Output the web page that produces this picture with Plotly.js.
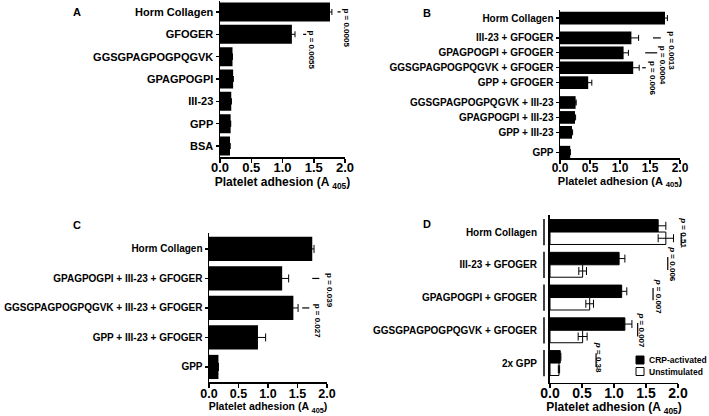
<!DOCTYPE html>
<html><head><meta charset="utf-8">
<script src="https://cdn.plot.ly/plotly-3.0.1.min.js"></script>
<style>html,body{margin:0;padding:0;background:#fff}#chart{width:709px;height:416px}</style>
</head><body><div id="chart"></div>
<script>
// ---------- DATA ----------
// Panel A
const catsA = ['Horm Collagen','GFOGER','GGSGPAGPOGPQGVK','GPAGPOGPI','III-23','GPP','BSA'];
const valsA = [1.76, 1.15, 0.20, 0.21, 0.18, 0.17, 0.16];
const errA  = [0.03, 0.05, 0, 0, 0, 0, 0];
const pA    = ['p = 0.0005', 'p = 0.0055'];
const pAcat = [0, 1];

// Panel B
const catsB = ['Horm Collagen','III-23 + GFOGER','GPAGPOGPI + GFOGER','GGSGPAGPOGPQGVK + GFOGER','GPP + GFOGER',
               'GGSGPAGPOGPQGVK + III-23','GPAGPOGPI + III-23','GPP + III-23','GPP'];
const valsB = [1.75, 1.19, 1.06, 1.22, 0.47, 0.26, 0.25, 0.20, 0.17];
const errB  = [0.04, 0.12, 0.08, 0.10, 0.06, 0.01, 0.01, 0.01, 0];
const groupB = [0, 1, 1, 1, 1, 2, 2, 2, 3];
const pB    = ['p = 0.0013', 'p = 0.0004', 'p = 0.006'];
const pBcat = [1, 2, 3];

// Panel C
const catsC = ['Horm Collagen','GPAGPOGPI + III-23 + GFOGER','GGSGPAGPOGPQGVK + III-23 + GFOGER','GPP + III-23 + GFOGER','GPP'];
const valsC = [1.75, 1.24, 1.43, 0.83, 0.16];
const errC  = [0.03, 0.11, 0.08, 0.13, 0];
const pC    = ['p = 0.039', 'p = 0.027'];
const pCcat = [1, 2];

// Panel D
const catsD = ['Horm Collagen','III-23 + GFOGER','GPAGPOGPI + GFOGER','GGSGPAGPOGPQGVK + GFOGER','2x GPP'];
const crpD     = [1.69, 1.08, 1.12, 1.17, 0.16];
const crpErrD  = [0.12, 0.09, 0.08, 0.11, 0.01];
const unsD     = [1.81, 0.51, 0.62, 0.51, 0.14];
const unsErrD  = [0.12, 0.06, 0.06, 0.07, 0.01];
const pD    = ['<i>p</i> = 0.51', '<i>p</i> = 0.006', '<i>p</i> = 0.007', '<i>p</i> = 0.007', '<i>p</i> = 0.38'];
const seriesD = ['CRP-activated', 'Unstimulated'];

const xTickVals = [0, 0.5, 1, 1.5, 2];
const xTickText = ['0.0', '0.5', '1.0', '1.5', '2.0'];
const xTitle = 'Platelet adhesion (A <sub>405</sub>)';

// ---------- LAYOUT GEOMETRY (px) ----------
const W = 709, H = 416;
const FONT = 'Liberation Sans, Arial, Helvetica, sans-serif';
const G = {
  A: {x:[220,345], y:[0.8,157.2], yr:[6.5,-0.5], tick:13, cat:11, title:12, so:3, tls:-6},
  B: {x:[560,680], y:[10,158],   yr:[9.38,-0.54], tick:12, cat:10, title:11, so:0, tls:-6},
  C: {x:[209,327], y:[233,382],  yr:[4.51,-0.54], tick:12.5, cat:10, title:10.5, so:1, tls:-5},
  D: {x:[550,678], y:[215,382.7], yr:[4.6,-0.52], tick:14, cat:10, title:12, so:0, tls:-7}
};
const posB = groupB.map((g, i) => i + 0.33 * g);

function px2x(p, v) { const g = G[p]; return (g.x[0] + (g.x[1] - g.x[0]) * v / 2) / W; }
function xAxis(p, anchor) {
  const g = G[p];
  return {domain:[g.x[0]/W, g.x[1]/W], range:[0,2], anchor:anchor, showline:true, linecolor:'#000',
    linewidth:1.5, ticks:'outside', ticklen:4, tickwidth:1.5, tickcolor:'#000', ticklabelstandoff:g.tls,
    tickvals:xTickVals, ticktext:xTickText, tickfont:{size:g.tick, weight:700, family:FONT},
    showgrid:false, zeroline:false, fixedrange:true,
    title:{text:xTitle, font:{size:g.title, weight:700, family:FONT}, standoff:g.so}};
}
function yAxis(p, anchor, extra) {
  const g = G[p];
  return Object.assign({domain:[1 - g.y[1]/H, 1 - g.y[0]/H], range:g.yr, anchor:anchor, showline:true,
    linecolor:'#000', linewidth:1.5, ticks:'outside', ticklen:3, tickwidth:1.2, tickcolor:'#000',
    tickfont:{size:g.cat, weight:700, family:FONT}, showgrid:false, zeroline:false, fixedrange:true}, extra || {});
}
function errBar(arr, w) { return {type:'data', array:arr, visible:true, color:'#000', thickness:1, width:w}; }

const traces = [
  {type:'bar', orientation:'h', x:valsA, y:catsA, xaxis:'x', yaxis:'y', width:0.85,
   marker:{color:'#000'}, error_x:errBar(errA, 3), hoverinfo:'x+y'},
  {type:'bar', orientation:'h', x:valsB, y:posB, xaxis:'x2', yaxis:'y2', width:0.85,
   marker:{color:'#000'}, error_x:errBar(errB, 3), text:catsB, hoverinfo:'x+text', textposition:'none'},
  {type:'bar', orientation:'h', x:valsC, y:catsC, xaxis:'x3', yaxis:'y3', width:0.82,
   marker:{color:'#000'}, error_x:errBar(errC, 4), hoverinfo:'x+y'},
  {type:'bar', orientation:'h', name:seriesD[0], x:crpD, y:catsD, xaxis:'x4', yaxis:'y4', width:0.38, offset:-0.38,
   marker:{color:'#000', line:{color:'#000', width:1}}, error_x:errBar(crpErrD, 4)},
  {type:'bar', orientation:'h', name:seriesD[1], x:unsD, y:catsD, xaxis:'x4', yaxis:'y4', width:0.38, offset:0,
   marker:{color:'#fff', line:{color:'#000', width:1}}, error_x:errBar(unsErrD, 4)}
];

// ---------- ANNOTATIONS ----------
const ann = [];
const shapes = [];
function pText(p, text, xv, yv, yref) {
  ann.push({xref:'paper', yref:yref, x:px2x(p, xv), y:yv, text:text, showarrow:false, textangle:90,
    xanchor:'center', yanchor:'middle', font:{size:8, weight:700, family:FONT, color:'#000'}});
}
function hDash(p, x0, x1, yv, yref) {
  shapes.push({type:'line', xref:'paper', yref:yref, x0:px2x(p, x0), x1:px2x(p, x1), y0:yv, y1:yv,
    line:{color:'#000', width:1.2}});
}
function vDash(p, xv, y0, y1, yref) {
  shapes.push({type:'line', xref:'paper', yref:yref, x0:px2x(p, xv), x1:px2x(p, xv), y0:y0, y1:y1,
    line:{color:'#000', width:1.2}});
}
// A
pText('A', pA[0], 2.03, 0.73, 'y');  hDash('A', 1.88, 1.93, pAcat[0], 'y');
pText('A', pA[1], 1.47, 1.72, 'y');  hDash('A', 1.33, 1.38, pAcat[1], 'y');
// B
pText('B', pB[0], 1.86, 2.2, 'y2');  hDash('B', 1.55, 1.68, posB[pBcat[0]], 'y2');
pText('B', pB[1], 1.72, 3.15, 'y2'); hDash('B', 1.42, 1.62, posB[pBcat[1]], 'y2');
pText('B', pB[2], 1.54, 4.04, 'y2'); hDash('B', 1.37, 1.43, posB[pBcat[2]], 'y2');
// C
pText('C', pC[0], 2.03, 1.42, 'y3'); hDash('C', 1.75, 1.87, pCcat[0], 'y3');
pText('C', pC[1], 1.84, 2.45, 'y3'); hDash('C', 1.58, 1.70, pCcat[1], 'y3');
// D
const pDx = [2.09, 1.92, 1.69, 1.43, 0.77];
const pDy = [0.03, 0.98, 1.98, 2.99, 3.82];
const lDx = [2.05, 1.84, 1.61, 1.37, 0.72];
const lDy = [[0.03,0.40],[0.76,1.16],[1.71,2.08],[2.78,3.19],[3.70,4.12]];
pD.forEach((t, i) => { pText('D', t, pDx[i], pDy[i], 'y4'); vDash('D', lDx[i], lDy[i][0], lDy[i][1], 'y4'); });
// D category brackets
catsD.forEach((c, i) => shapes.push({type:'line', xref:'paper', yref:'y4', x0:544/W, x1:544/W, y0:i-0.4, y1:i+0.4,
  line:{color:'#000', width:1.5}}));
// D legend (manual, compact)
const legY = [360, 371.5];
shapes.push({type:'rect', xref:'paper', yref:'paper', x0:636/W, x1:644/W, y0:1-(legY[0]+4)/H, y1:1-(legY[0]-4)/H,
  fillcolor:'#000', line:{color:'#000', width:1}});
shapes.push({type:'rect', xref:'paper', yref:'paper', x0:636/W, x1:644/W, y0:1-(legY[1]+4)/H, y1:1-(legY[1]-4)/H,
  fillcolor:'#fff', line:{color:'#000', width:1}});
seriesD.forEach((s, i) => ann.push({xref:'paper', yref:'paper', x:647/W, y:1-legY[i]/H, text:s, showarrow:false,
  xanchor:'left', yanchor:'middle', font:{size:8.5, weight:700, family:FONT, color:'#000'}}));
// Panel letters
const letters = [['A',77,12],['B',427,13],['C',77,225],['D',427,224]];
letters.forEach(l => ann.push({xref:'paper', yref:'paper', x:l[1]/W, y:1-l[2]/H, text:l[0], showarrow:false,
  xanchor:'center', yanchor:'middle', font:{size:11, weight:700, family:FONT, color:'#000'}}));

const layout = {
  width:W, height:H, margin:{l:0, r:0, t:0, b:0}, paper_bgcolor:'#fff', plot_bgcolor:'rgba(0,0,0,0)',
  showlegend:false, barmode:'overlay', font:{family:FONT, color:'#000'},
  xaxis:xAxis('A','y'),  yaxis:yAxis('A','x', {type:'category', categoryarray:catsA, categoryorder:'array'}),
  xaxis2:xAxis('B','y2'), yaxis2:yAxis('B','x2', {tickvals:posB, ticktext:catsB}),
  xaxis3:xAxis('C','y3'), yaxis3:yAxis('C','x3', {type:'category', categoryarray:catsC, categoryorder:'array'}),
  xaxis4:xAxis('D','y4'), yaxis4:yAxis('D','x4', {type:'category', categoryarray:catsD, categoryorder:'array',
     linewidth:2, ticklen:9, tickcolor:'rgba(0,0,0,0)'}),
  annotations:ann, shapes:shapes
};
Plotly.newPlot('chart', traces, layout, {displayModeBar:false, staticPlot:true});
</script>
</body></html>
